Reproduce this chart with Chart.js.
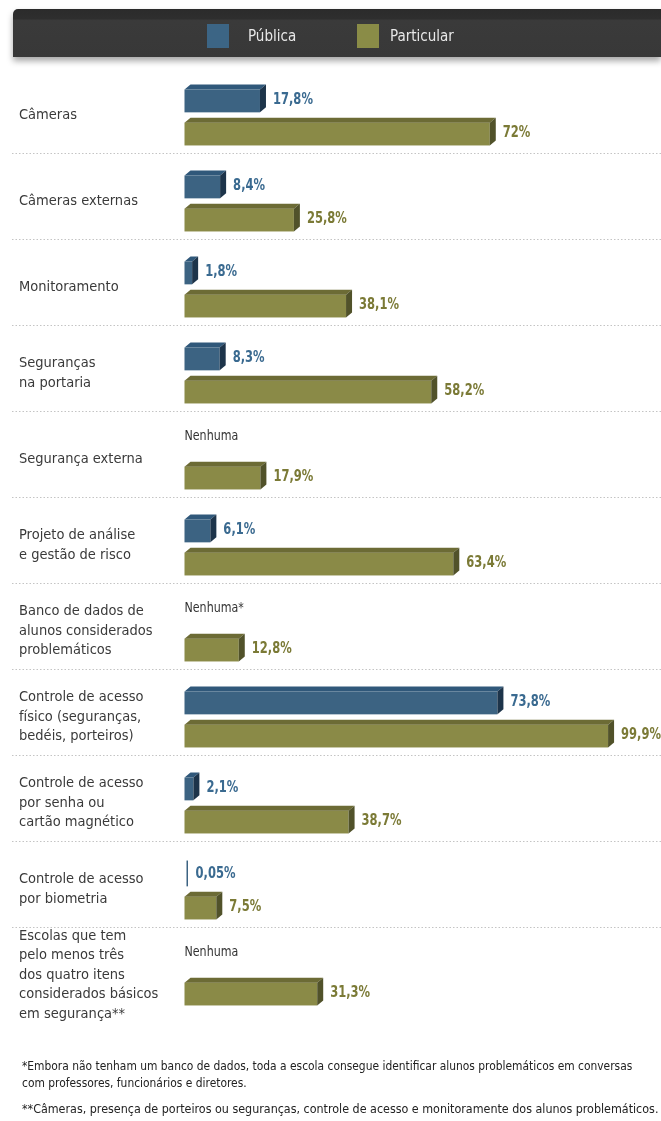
<!DOCTYPE html>
<html>
<head>
<meta charset="utf-8">
<style>
  body { margin: 0; background: #fff; width: 661px; height: 1121px; position: relative; overflow: hidden;
         font-family: "DejaVu Sans Condensed", sans-serif; }
  #grafico { position: absolute; left: 0; top: 0; width: 661px; height: 1121px; }
  #topo { position: absolute; left: 13px; top: 9px; width: 648px; height: 48px;
          background: linear-gradient(#2b2b2b 0, #2e2e2e 20%, #3a3a3a 24%, #383838 100%);
          border-top-left-radius: 5px; box-shadow: 0 4px 6px rgba(0,0,0,0.35); }
  .cx { position: absolute; top: 24px; width: 22px; height: 24px; }
  .lg { position: absolute; top: 24px; color: #e8e8e8; font-size: 15px; line-height: 24px; }
  .nota { position: absolute; left: 22px; color: #222; line-height: 17px; white-space: nowrap; }
</style>
</head>
<body>
<div id="grafico"><canvas id="myChart"></canvas></div>
<div id="topo"></div>
<div class="cx" style="left:207px;background:#3c6585"></div>
<div class="lg" style="left:248px">Pública</div>
<div class="cx" style="left:357px;background:#8a8c47"></div>
<div class="lg" style="left:390px">Particular</div>
<div class="nota" style="top:1058px;font-size:11.9px">*Embora não tenham um banco de dados, toda a escola consegue identificar alunos problemáticos em conversas<br>com professores, funcionários e diretores.</div>
<div class="nota" style="top:1100px;font-size:12.4px">**Câmeras, presença de porteiros ou seguranças, controle de acesso e monitoramente dos alunos problemáticos.</div>
<script src="https://cdn.jsdelivr.net/npm/chart.js@4.4.0/dist/chart.umd.min.js"></script>
<script>
    const categorias = [
        ["Câmeras"],
        ["Câmeras externas"],
        ["Monitoramento"],
        ["Seguranças", "na portaria"],
        ["Segurança externa"],
        ["Projeto de análise", "e gestão de risco"],
        ["Banco de dados de", "alunos considerados", "problemáticos"],
        ["Controle de acesso", "físico (seguranças,", "bedéis, porteiros)"],
        ["Controle de acesso", "por senha ou", "cartão magnético"],
        ["Controle de acesso", "por biometria"],
        ["Escolas que tem", "pelo menos três", "dos quatro itens", "considerados básicos", "em segurança**"]
    ];
    const publica = [17.8, 8.4, 1.8, 8.3, null, 6.1, null, 73.8, 2.1, 0.05, null];
    const particular = [72, 25.8, 38.1, 58.2, 17.9, 63.4, 12.8, 99.9, 38.7, 7.5, 31.3];
    const notaPublica = ["", "", "", "", "Nenhuma", "", "Nenhuma*", "", "", "", "Nenhuma"];

    const fonte = '"DejaVu Sans Condensed", sans-serif';
    // cores: frente, topo, lado, rótulo
    const cores = [
        ["#3c6382", "#30587a", "#1d344a", "#3a6a90"],
        ["#8a8a47", "#6c6b35", "#51522a", "#7b7a36"]
    ];
    const dx = 6, dy = 5;

    function fmt(v) {
        return String(v).replace(".", ",") + "%";
    }

    // texto estreitado (a fonte original é condensada)
    function textoEstreito(ctx, txt, x, y, font, cor, escala) {
        ctx.save();
        ctx.translate(x, y);
        ctx.scale(escala, 1);
        ctx.font = font;
        ctx.fillStyle = cor;
        ctx.textAlign = "left";
        ctx.textBaseline = "middle";
        ctx.fillText(txt, 0, 0);
        ctx.restore();
    }

    const barras3d = {
        id: "barras3d",
        beforeDatasetsDraw(chart) {
            const ctx = chart.ctx, y = chart.scales.y;
            ctx.save();
            ctx.strokeStyle = "#c4c4c4";
            ctx.lineWidth = 1;
            ctx.setLineDash([1.5, 2]);
            for (let i = 1; i < categorias.length; i++) {
                const yy = Math.round((y.getPixelForValue(i - 1) + y.getPixelForValue(i)) / 2 - 5) + 0.5;
                ctx.beginPath();
                ctx.moveTo(12, yy);
                ctx.lineTo(661, yy);
                ctx.stroke();
            }
            ctx.restore();
        },
        afterDatasetsDraw(chart) {
            const ctx = chart.ctx;
            const x0 = chart.scales.x.getPixelForValue(0);
            ctx.save();
            chart.data.datasets.forEach((ds, di) => {
                const meta = chart.getDatasetMeta(di);
                const c = cores[di];
                meta.data.forEach((bar, i) => {
                    const v = ds.data[i];
                    const top = bar.y - bar.height / 2, bottom = bar.y + bar.height / 2;
                    if (v === null) {
                        if (di === 0 && notaPublica[i]) {
                            textoEstreito(ctx, notaPublica[i], x0, bar.y - 6, "14px " + fonte, "#333", 0.88);
                        }
                        return;
                    }
                    const x1 = bar.x;
                    let fimTexto;
                    if (x1 - x0 < 1) {
                        ctx.fillStyle = c[0];
                        ctx.fillRect(x0 + 2, top + 2, 1.5, bottom - top - 2);
                        fimTexto = x0 + 11;
                    } else {
                        // frente
                        ctx.fillStyle = c[0];
                        ctx.fillRect(x0, top + dy, x1 - x0, bottom - top - dy);
                        // topo
                        ctx.fillStyle = c[1];
                        ctx.beginPath();
                        ctx.moveTo(x0, top + dy);
                        ctx.lineTo(x0 + dx, top);
                        ctx.lineTo(x1 + dx, top);
                        ctx.lineTo(x1, top + dy);
                        ctx.closePath();
                        ctx.fill();
                        // lado
                        ctx.fillStyle = c[2];
                        ctx.beginPath();
                        ctx.moveTo(x1, top + dy);
                        ctx.lineTo(x1 + dx, top);
                        ctx.lineTo(x1 + dx, bottom - dy);
                        ctx.lineTo(x1, bottom);
                        ctx.closePath();
                        ctx.fill();
                        fimTexto = x1 + dx + 7;
                    }
                    textoEstreito(ctx, fmt(v), fimTexto, bar.y + 1, "bold 16px " + fonte, c[3], 0.8);
                });
            });
            ctx.restore();
        }
    };

    new Chart("myChart", {
        type: "bar",
        data: {
            labels: categorias,
            datasets: [
                { label: "Pública", data: publica, backgroundColor: "rgba(0,0,0,0)" },
                { label: "Particular", data: particular, backgroundColor: "rgba(0,0,0,0)" }
            ]
        },
        options: {
            indexAxis: "y",
            responsive: true,
            maintainAspectRatio: false,
            animation: false,
            categoryPercentage: 0.77,
            barPercentage: 0.84,
            layout: { padding: { left: 19, right: 52.5, top: 72, bottom: 103 } },
            plugins: { legend: { display: false }, tooltip: { enabled: false } },
            scales: {
                x: { display: false, min: 0, max: 100 },
                y: {
                    grid: { display: false },
                    border: { display: false },
                    afterFit: (s) => { s.width = 165.5; },
                    ticks: {
                        autoSkip: false,
                        crossAlign: "far",
                        color: "#3a3a3a",
                        font: { family: fonte, size: 14.5, lineHeight: 1.35 }
                    }
                }
            }
        },
        plugins: [barras3d]
    });
</script>
</body>
</html>
